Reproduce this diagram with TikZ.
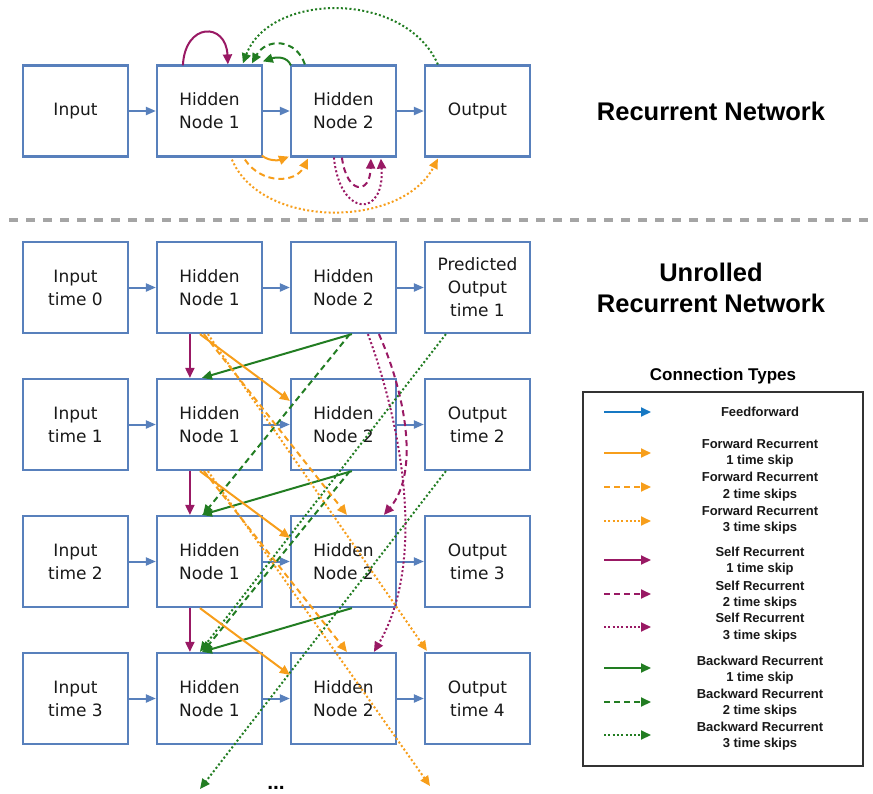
\documentclass[tikz,border=0pt]{standalone}
\usepackage{fontspec}
\usetikzlibrary{arrows.meta,calc}
\newfontfamily\boxfont{DejaVu Sans}
\newfontfamily\hfont{Liberation Sans}
\definecolor{boxblue}{RGB}{88,128,188}
\definecolor{legblue}{RGB}{23,120,195}
\definecolor{corange}{RGB}{247,158,27}
\definecolor{cpurple}{RGB}{153,25,100}
\definecolor{cgreen}{RGB}{34,125,34}
\definecolor{txt}{RGB}{25,25,25}
\definecolor{sepgray}{RGB}{165,165,165}
\tikzset{
  box/.style={draw=boxblue, line width=2.2pt, fill=white, minimum width=105pt, minimum height=91pt,
    inner sep=0pt, align=center, text=txt, font=\boxfont\fontsize{17}{23}\selectfont},
  tip/.style={-{Triangle[length=10pt,width=9pt]}},
  ff/.style={draw=boxblue, line width=2pt, -{Triangle[length=10pt,width=8pt]}},
  org/.style={draw=corange, line width=2pt},
  pur/.style={draw=cpurple, line width=2pt},
  grn/.style={draw=cgreen, line width=2pt},
  dsh/.style={dash pattern=on 6pt off 4pt},
  dtt/.style={dash pattern=on 2pt off 2.3pt},
  title/.style={font=\hfont\bfseries\fontsize{25.5}{31}\selectfont, align=center, text=black},
  legtxt/.style={font=\hfont\bfseries\fontsize{13}{16.4}\selectfont, align=center, text=txt},
}
\begin{document}
\begin{tikzpicture}[x=1pt,y=-1pt]
\useasboundingbox (0,0) rectangle (873,793);

% ---------- top: recurrent network ----------
\node[box] (i)  at (75.5,111)  {Input};
\node[box] (h1) at (209.5,111) {Hidden\\Node 1};
\node[box] (h2) at (343.5,111) {Hidden\\Node 2};
\node[box] (o)  at (477.5,111) {Output};
\draw[ff] (i) -- (h1);
\draw[ff] (h1) -- (h2);
\draw[ff] (h2) -- (o);

% self recurrent (H1)
\draw[pur,tip] ($(h1.north west)+(27,1)$) .. controls (185,22) and (226,22) .. ($(h1.north west)+(72,0)$);
% backward recurrent
\draw[grn,tip] ($(h2.north west)+(1,1)$) .. controls (287,56) and (276,57) .. ($(h1.north west)+(107,-3)$);
\draw[grn,tip,dsh] ($(h2.north west)+(15,0)$) .. controls (296,38) and (266,38) .. ($(h1.north west)+(96,-1)$);
\draw[grn,tip,dtt] ($(o.north west)+(14,0)$) .. controls (405,-10) and (270,-8) .. ($(h1.north west)+(87,-1)$);
% forward recurrent
\draw[org,tip] ($(h1.south west)+(106,-2)$) .. controls (270,162) and (280,160) .. ($(h2.south west)+(-1,-1)$);
\draw[org,tip,dsh] ($(h1.south west)+(89,2)$) .. controls (262,185) and (296,183) .. ($(h2.south west)+(18,1)$);
\draw[org,tip,dtt] ($(h1.south west)+(76,2)$) .. controls (262,230) and (402,228) .. ($(o.south west)+(14,1)$);
% self recurrent (H2)
\draw[pur,tip,dsh] ($(h2.south west)+(52,0)$) .. controls (347,195) and (370,195) .. ($(h2.south west)+(81,1)$);
\draw[pur,tip,dtt] ($(h2.south west)+(44,0)$) .. controls (340,218) and (385,218) .. ($(h2.south west)+(91,1)$);

\node[title] (t1) at (711,111) {Recurrent Network};

% separator
\draw[sepgray, line width=4.5pt, dash pattern=on 9.3pt off 7.7pt] (9,220) -- (873,220);

% ---------- unrolled ----------
\node[title] (t2) at (711,288) {Unrolled\\Recurrent Network};

\node[box] (in0) at (75.5,287.5) {Input\\time 0};
\node[box] (a0)  at (209.5,287.5) {Hidden\\Node 1};
\node[box] (b0)  at (343.5,287.5) {Hidden\\Node 2};
\node[box] (out0) at (477.5,287.5) {Predicted\\Output\\time 1};

\node[box] (in1) at (75.5,424.5) {Input\\time 1};
\node[box] (a1)  at (209.5,424.5) {Hidden\\Node 1};
\node[box] (b1)  at (343.5,424.5) {Hidden\\Node 2};
\node[box] (out1) at (477.5,424.5) {Output\\time 2};

\node[box] (in2) at (75.5,561.5) {Input\\time 2};
\node[box] (a2)  at (209.5,561.5) {Hidden\\Node 1};
\node[box] (b2)  at (343.5,561.5) {Hidden\\Node 2};
\node[box] (out2) at (477.5,561.5) {Output\\time 3};

\node[box] (in3) at (75.5,698.5) {Input\\time 3};
\node[box] (a3)  at (209.5,698.5) {Hidden\\Node 1};
\node[box] (b3)  at (343.5,698.5) {Hidden\\Node 2};
\node[box] (out3) at (477.5,698.5) {Output\\time 4};

\foreach \r in {0,1,2,3} {
  \draw[ff] (in\r) -- (a\r);
  \draw[ff] (a\r) -- (b\r);
  \draw[ff] (b\r) -- (out\r);
}

\coordinate (gend) at (200,789);
\coordinate (oend) at (430,786);

% backward recurrent
\foreach \r/\s in {0/1,1/2,2/3} {
  \draw[grn,tip] ($(b\r.south west)+(62,0)$) -- ($(a\s.north west)+(46,0)$);
}
\draw[grn,tip,dsh] ($(b0.south west)+(60,0)$) -- ($(a2.north west)+(47,0)$);
\draw[grn,tip,dsh] ($(b1.south west)+(60,0)$) -- ($(a3.north west)+(47,0)$);
\draw[grn,tip,dtt] ($(out0.south west)+(22,0)$) -- ($(a3.north west)+(44,0)$);
\draw[grn,tip,dtt] ($(out1.south west)+(22,0)$) -- (gend);

% self recurrent
\foreach \r/\s in {0/1,1/2,2/3} {
  \draw[pur,tip] ($(a\r.south west)+(34,0)$) -- ($(a\s.north west)+(34,0)$);
}
\draw[pur,tip,dsh] ($(b0.south west)+(89,0)$) .. controls (402,385) and (422,470) .. ($(b2.north west)+(94,0)$);
\draw[pur,tip,dtt] ($(b0.south west)+(78,0)$) .. controls (400,420) and (428,560) .. ($(b3.north west)+(84,0)$);

% forward recurrent
\foreach \r/\s in {0/1,1/2,2/3} {
  \draw[org,tip] ($(a\r.south west)+(44,0)$) -- ($(b\s.north west)+(0,23)$);
}
\draw[org,tip,dsh] ($(a0.south west)+(48,0)$) -- ($(b2.north west)+(57,0)$);
\draw[org,tip,dsh] ($(a1.south west)+(48,0)$) -- ($(b3.north west)+(57,0)$);
\draw[org,tip,dtt] ($(a0.south west)+(52,0)$) -- ($(out3.north west)+(3,-1)$);
\draw[org,tip,dtt] ($(a1.south west)+(52,0)$) -- (oend);

\node[font=\hfont\bfseries\fontsize{21}{21}\selectfont, anchor=base, inner sep=0pt] (dots) at (276,789) {...};

% ---------- legend ----------
\node[font=\hfont\bfseries\fontsize{17}{20}\selectfont, text=black] (lt) at (723,376) {Connection Types};
\node[draw=black!80, line width=1.3pt, minimum width=280pt, minimum height=374pt, inner sep=0pt] (leg) at (723,579) {};

\node[legtxt] (l1)  at (760,412)   {Feedforward};
\node[legtxt] (l2)  at (760,453)   {Forward Recurrent\\1 time skip};
\node[legtxt] (l3)  at (760,486.5) {Forward Recurrent\\2 time skips};
\node[legtxt] (l4)  at (760,520)   {Forward Recurrent\\3 time skips};
\node[legtxt] (l5)  at (760,561)   {Self Recurrent\\1 time skip};
\node[legtxt] (l6)  at (760,595)   {Self Recurrent\\2 time skips};
\node[legtxt] (l7)  at (760,627.5) {Self Recurrent\\3 time skips};
\node[legtxt] (l8)  at (760,670)   {Backward Recurrent\\1 time skip};
\node[legtxt] (l9)  at (760,703)   {Backward Recurrent\\2 time skips};
\node[legtxt] (l10) at (760,736)   {Backward Recurrent\\3 time skips};

\foreach \n/\y in {1/412,2/453,3/487,4/521,5/560,6/594,7/627,8/668,9/702,10/735} {
  \coordinate (s\n) at (604,\y);
  \coordinate (e\n) at (651,\y);
}
\draw[draw=legblue, line width=2pt, tip] (s1) -- (e1);
\draw[org,tip] (s2) -- (e2);
\draw[org,tip,dsh] (s3) -- (e3);
\draw[org,tip,dtt] (s4) -- (e4);
\draw[pur,tip] (s5) -- (e5);
\draw[pur,tip,dsh] (s6) -- (e6);
\draw[pur,tip,dtt] (s7) -- (e7);
\draw[grn,tip] (s8) -- (e8);
\draw[grn,tip,dsh] (s9) -- (e9);
\draw[grn,tip,dtt] (s10) -- (e10);
\end{tikzpicture}
\end{document}
